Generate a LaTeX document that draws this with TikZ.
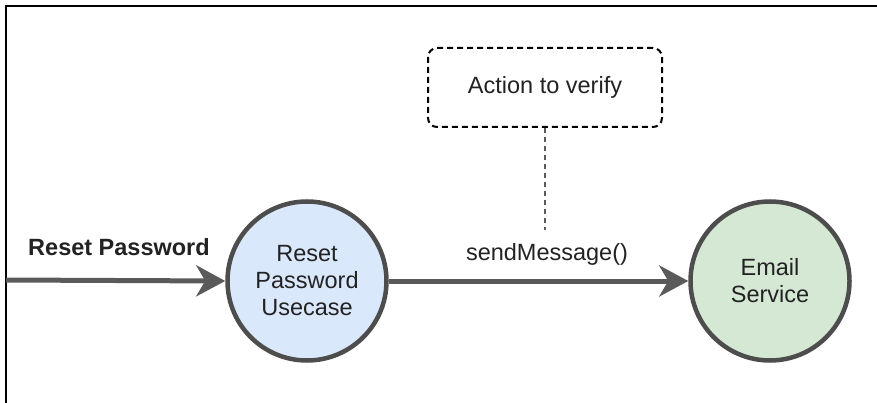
\documentclass[tikz,border=0pt]{standalone}
\usepackage{fontspec}
\setmainfont{Liberation Sans}
\usetikzlibrary{arrows.meta}
\definecolor{edgegray}{HTML}{5A5A5A}
\definecolor{ringgray}{HTML}{4D4D4D}
\definecolor{ink}{HTML}{222222}
\definecolor{usefill}{HTML}{DAE8FC}
\definecolor{svcfill}{HTML}{D5E8D4}
\tikzset{
  txt/.style={font=\fontsize{23.5}{27}\selectfont, text=ink, align=center, inner sep=0pt},
  actor/.style={circle, draw=ringgray, line width=4.5pt, minimum size=159pt, inner sep=0pt, txt},
  note/.style={draw=black, dashed, dash pattern=on 6pt off 4pt, line width=2pt, rounded corners=9pt,
    minimum width=234pt, minimum height=79pt, txt},
  flow/.style={draw=edgegray, line width=5pt,
    -{Stealth[length=29pt, width=31pt, inset=9pt]}},
  link/.style={draw=edgegray, line width=1.2pt, dash pattern=on 5pt off 4pt}
}
\begin{document}
\begin{tikzpicture}[x=1pt, y=-1pt]
  \useasboundingbox (0,0) rectangle (877,403);
  % frame
  \draw[line width=2.5pt, black] (6,403) -- (6,6) -- (877,6);

  % nodes
  \node[actor, fill=usefill] (uc) at (307,281) {Reset\\Password\\Usecase};
  \node[actor, fill=svcfill] (es) at (770,281) {Email\\Service};
  \node[note] (act) at (545,87.5) {Action to verify};

  % labels
  \node[txt, font=\fontsize{23.5}{27}\selectfont\bfseries] (rp) at (119,247) {Reset Password};
  \node[txt] (sm) at (547,254) {sendMessage()};

  % connectors
  \coordinate (in) at (6,280);
  \coordinate (hint) at (545,230);
  \draw[flow] (in) -- (uc.west);
  \draw[flow] (uc.east) -- (es.west);
  \draw[link] (act.south) -- (hint);
\end{tikzpicture}
\end{document}
